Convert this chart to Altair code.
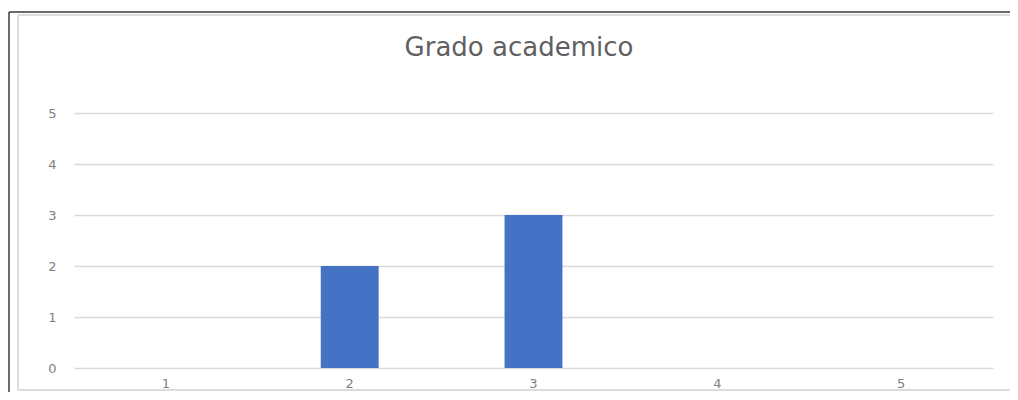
import altair as alt
import pandas as pd

categories = ["1", "2", "3", "4", "5"]
values = [0, 2, 3, 0, 0]
title_text = "Grado academico"

df = pd.DataFrame({"cat": categories, "val": values})

W, H = 919, 255

bars = alt.Chart(df).mark_bar(color="#4472c4").encode(
    x=alt.X("cat:N", sort=categories,
            scale=alt.Scale(paddingInner=0.685, paddingOuter=0.3425),
            axis=alt.Axis(title=None, labelAngle=0, domain=False, ticks=False,
                          labelPadding=9, labelFontSize=13, labelColor="#808080",
                          labelFont="DejaVu Sans")),
    y=alt.Y("val:Q", scale=alt.Scale(domain=[0, 5]),
            axis=alt.Axis(title=None, values=[0, 1, 2, 3, 4, 5], domain=False, ticks=False,
                          labelPadding=18, labelFontSize=13, labelColor="#808080",
                          labelFont="DejaVu Sans", gridColor="#d9d9d9", gridWidth=1.5)),
)

frame_df = pd.DataFrame({"k": [0]})


def rule(x, x2, y, y2, color, width):
    return alt.Chart(frame_df).mark_rule(color=color, strokeWidth=width, clip=False).encode(
        x=alt.value(x), x2=alt.value(x2), y=alt.value(y), y2=alt.value(y2)
    )


frame = [
    rule(-65, 936, -101, -101, "#3a3a3a", 1.5),
    rule(-65, -65, -101, 300, "#3a3a3a", 1.5),
    rule(-56, 936, -98, -98, "#dcdcdc", 2),
    rule(-56, -56, -98, 277, "#dcdcdc", 2),
    rule(-56, 936, 277, 277, "#dcdcdc", 2),
]

title = alt.Chart(pd.DataFrame({"t": [title_text]})).mark_text(
    fontSize=26, font="DejaVu Sans", color="#606060", baseline="middle", align="center"
).encode(text="t:N", x=alt.value(445), y=alt.value(-65))

chart = alt.layer(*frame, bars, title).properties(
    width=W, height=H,
    autosize=alt.AutoSizeParams(type="none"),
    padding={"left": 66, "top": 105, "right": 17, "bottom": 24},
).configure(background="white").configure_view(stroke=None)

chart.save("out.html", embed_options={"renderer": "svg", "actions": False})
